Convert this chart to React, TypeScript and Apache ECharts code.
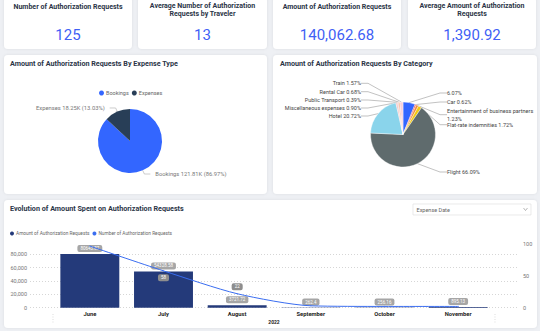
import React, { useEffect, useRef } from "react";
import * as echarts from "echarts";

// ---- KPI cards ----
const kpiTitles = [
  "Number of Authorization Requests",
  "Average Number of Authorization\nRequests by Traveler",
  "Amount of Authorization Requests",
  "Average Amount of Authorization\nRequests",
];
const kpiValues = ["125", "13", "140,062.68", "1,390.92"];

// ---- Pie 1: by expense type (K) ----
const expenseTypes = ["Bookings", "Expenses"];
const expenseAmountsK = [121.81, 18.25];

// ---- Pie 2: by category (%) ----
const categoryNames = [
  "",
  "Car",
  "Entertainment of business partners",
  "Flat-rate indemnities",
  "Flight",
  "Hotel",
  "Miscellaneous expenses",
  "Public Transport",
  "Rental Car",
  "Train",
];
const categoryShares = [6.07, 0.62, 1.23, 1.72, 66.09, 20.72, 0.9, 0.39, 0.68, 1.57];
const categoryColors = [
  "#3366ff",
  "#e8474d",
  "#f08a3c",
  "#f2c80f",
  "#5f6b6d",
  "#8ad4eb",
  "#f4c2c6",
  "#dcb3a8",
  "#f4a582",
  "#f8d0dc",
];
// label placement (layout only)
const pieLabelY = [93, 102, 114.7, 124.7, 172, 116, 108, 100, 91.7, 83.3];

// ---- Combo chart ----
const months = ["June", "July", "August", "September", "October", "November"];
const amounts = [80643.87, 54328.58, 3721.72, 262.4, 256.16, 895.13];
const counts = [97, 58, 22, 3, 2, 2];
const countLabelPos = ["", "bottom", "top", "", "", ""];
const leftTicks = { min: 0, max: 80000, interval: 20000 };
const rightTicks = { min: 0, max: 105, interval: 50 };

const FONT = "Roboto";
const TITLE_COLOR = "#2b3547";

function card(x: number, y: number, w: number, h: number) {
  return {
    type: "rect",
    z: 0,
    shape: { x, y, width: w, height: h, r: 4 },
    style: { fill: "#ffffff", shadowBlur: 3, shadowColor: "rgba(0,0,0,0.08)" },
  };
}

function txt(text: string, x: number, y: number, o: any = {}) {
  return {
    type: "text",
    z: 5,
    x,
    y,
    style: {
      text,
      fontFamily: FONT,
      fontSize: 6.5,
      fontWeight: "bold",
      fill: TITLE_COLOR,
      align: "left",
      verticalAlign: "middle",
      lineHeight: 8,
      ...o,
    },
  };
}

export default function App() {
  const ref = useRef<HTMLDivElement>(null);
  useEffect(() => {
    if (!ref.current) return;
    const chart = echarts.init(ref.current, undefined, { renderer: "svg" });

    const kpiCenters = [68, 202.5, 337, 472];
    const graphics: any[] = [
      card(4, -3, 128, 52),
      card(138, -3, 129, 52),
      card(273, -3, 128, 52),
      card(408, -3, 128, 52),
      card(4, 55, 263, 139),
      card(273, 55, 264, 139),
      card(4, 200, 533, 128),
    ];
    kpiTitles.forEach((t, i) => {
      const twoLines = t.includes("\n");
      graphics.push(
        txt(t, kpiCenters[i], twoLines ? 10.3 : 6.5, { align: "center", fontSize: 7 })
      );
      graphics.push(
        txt(kpiValues[i], kpiCenters[i], 35, {
          align: "center",
          fontSize: 15,
          fontWeight: "normal",
          fill: "#3f5ff5",
        })
      );
    });
    graphics.push(txt("Amount of Authorization Requests By Expense Type", 10, 63, { fontSize: 7.2 }));
    graphics.push(txt("Amount of Authorization Requests By Category", 280, 63, { fontSize: 7.2 }));
    graphics.push(txt("Evolution of Amount Spent on Authorization Requests", 10, 208, { fontSize: 7.2 }));
    // dropdown
    graphics.push({
      type: "rect",
      z: 5,
      shape: { x: 413, y: 204, width: 118, height: 11 },
      style: { fill: "#fff", stroke: "#dcdcdc", lineWidth: 0.6 },
    });
    graphics.push(txt("Expense Date", 416.5, 209.5, { fontSize: 5.5, fontWeight: "normal", fill: "#666" }));
    graphics.push({
      type: "polyline",
      z: 6,
      shape: { points: [[523.5, 208], [525.5, 210.5], [527.5, 208]] },
      style: { stroke: "#888", lineWidth: 0.6, fill: "none" },
    });
    // hierarchy separators
    [53, 495].forEach((x) =>
      graphics.push({
        type: "line",
        z: 5,
        shape: { x1: x, y1: 314, x2: x, y2: 324 },
        style: { stroke: "#c8c8c8", lineWidth: 0.6, lineDash: [1, 1.5] },
      })
    );

    const option: any = {
      animation: false,
      backgroundColor: "#eef0f4",
      textStyle: { fontFamily: FONT },
      graphic: graphics,
      legend: [
        {
          data: expenseTypes,
          left: 99,
          top: 90,
          icon: "circle",
          itemWidth: 5,
          itemHeight: 5,
          itemGap: 3,
          padding: 0,
          textStyle: { fontSize: 5.5, color: "#666", padding: [0, 0, 0, -3] },
        },
        {
          data: ["Amount of Authorization Requests", "Number of Authorization Requests"],
          left: 10,
          top: 231,
          icon: "circle",
          itemWidth: 4,
          itemHeight: 4,
          itemGap: 3,
          padding: 0,
          textStyle: { fontSize: 4.8, color: "#666", padding: [0, 0, 0, -3] },
        },
      ],
      grid: [
        { left: 30, right: 23, top: 254.3, bottom: 23.3 },
        { left: 53, right: 45, top: 241, bottom: 23.3 },
      ],
      xAxis: [
        { gridIndex: 0, type: "value", show: false, min: 0, max: 1 },
        {
          gridIndex: 1,
          type: "category",
          data: months,
          axisLine: { show: false },
          axisTick: { show: false },
          axisLabel: { fontSize: 5.8, fontWeight: "bold", color: "#252423", margin: 3 },
          name: "2022",
          nameLocation: "middle",
          nameGap: 12,
          nameTextStyle: { fontSize: 5, fontWeight: "bold", color: "#252423" },
        },
      ],
      yAxis: [
        {
          gridIndex: 0,
          type: "value",
          min: leftTicks.min,
          max: leftTicks.max,
          interval: leftTicks.interval,
          axisLine: { show: false },
          axisTick: { show: false },
          splitLine: { lineStyle: { type: [1, 2], color: "#c4c4c4", width: 0.7 } },
          axisLabel: {
            fontSize: 5.5,
            color: "#777",
            margin: 3,
            formatter: (v: number) => v.toLocaleString("en-US"),
          },
        },
        { gridIndex: 1, type: "value", min: 0, max: 100000, show: false, splitLine: { show: false } },
        {
          gridIndex: 1,
          type: "value",
          position: "right",
          min: rightTicks.min,
          max: rightTicks.max,
          interval: rightTicks.interval,
          axisLine: { show: false },
          axisTick: { show: false },
          splitLine: { show: false },
          axisLabel: { fontSize: 5.5, color: "#777", margin: 28, showMaxLabel: false },
        },
      ],
      series: [
        {
          type: "pie",
          center: [130, 141],
          radius: 32,
          startAngle: 90,
          color: ["#3366ff", "#283e57"],
          data: expenseTypes.map((n, i) => ({ name: n, value: expenseAmountsK[i] })),
          label: { fontSize: 5.8, color: "#777", formatter: "{b} {c}K ({d}%)" },
          labelLine: { length: 4, length2: 6, lineStyle: { color: "#aaa", width: 0.6 } },
        },
        {
          type: "pie",
          center: [403, 134.5],
          radius: 32.5,
          startAngle: 90,
          color: categoryColors,
          itemStyle: { borderColor: "#fff", borderWidth: 0.4 },
          data: categoryNames.map((n, i) => ({ name: n || " ", value: categoryShares[i] })),
          label: {
            fontSize: 5.5,
            color: "#444",
            lineHeight: 8,
            formatter: (p: any) => {
              const name = categoryNames[p.dataIndex];
              const pct = p.value.toFixed(2) + "%";
              if (!name) return pct;
              return name.length > 30 ? name + "\n" + pct : name + " " + pct;
            },
          },
          labelLine: { length: 3, length2: 7, lineStyle: { color: "#999", width: 0.6 } },
          labelLayout: (p: any) => {
            const right = p.dataIndex <= 4;
            return {
              x: right ? 447 : 361,
              y: pieLabelY[p.dataIndex],
              align: right ? "left" : "right",
              verticalAlign: "middle",
            };
          },
        },
        {
          type: "bar",
          name: "Amount of Authorization Requests",
          xAxisIndex: 1,
          yAxisIndex: 1,
          barCategoryGap: "20%",
          color: "#243a7a",
          data: amounts,
          label: {
            show: true,
            position: "top",
            distance: 2,
            fontSize: 4.5,
            color: "#fff",
            backgroundColor: "#a6a6a6",
            padding: [1, 3],
            borderRadius: 2,
            formatter: (p: any) => String(p.value),
          },
        },
        {
          type: "line",
          name: "Number of Authorization Requests",
          xAxisIndex: 1,
          yAxisIndex: 2,
          color: "#3a6df0",
          smooth: 0.25,
          showSymbol: true,
          symbol: "circle",
          symbolSize: 1,
          lineStyle: { width: 1 },
          data: counts.map((v, i) => ({
            value: v,
            label: countLabelPos[i]
              ? {
                  show: true,
                  position: countLabelPos[i],
                  distance: 3,
                  fontSize: 4.5,
                  color: "#fff",
                  backgroundColor: "#8e8e8e",
                  padding: [1, 3],
                  borderRadius: 2,
                }
              : { show: false },
          })),
          z: 4,
        },
      ],
    };
    chart.setOption(option);
    return () => chart.dispose();
  }, []);
  return (
    <div
      ref={ref}
      style={{ position: "absolute", left: 0, top: 0, width: 540, height: 331 }}
    />
  );
}
